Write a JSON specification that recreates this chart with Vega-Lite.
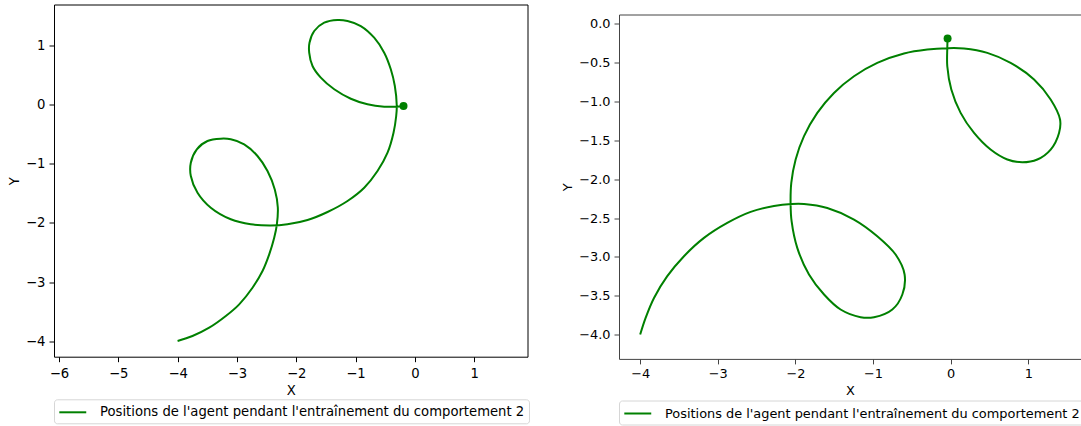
{
  "$schema": "https://vega.github.io/schema/vega-lite/v6.json",
  "background": "white",
  "padding": {"left": 7, "top": 3.5, "right": 0, "bottom": 0},
  "spacing": 31,
  "config": {
    "font": "DejaVu Sans",
    "axis": {"domain": false, "grid": false, "tickColor": "black", "tickSize": 5, "tickWidth": 1, "labelColor": "black", "labelFont": "DejaVu Sans", "labelFontSize": 13.2, "labelPadding": 4, "titleFont": "DejaVu Sans", "titleFontSize": 13.2, "titleFontWeight": "normal", "titleColor": "black", "titlePadding": 4},
    "legend": {"labelFont": "DejaVu Sans", "labelColor": "black"}
  },
  "resolve": {"scale": {"color": "independent"}, "legend": {"color": "independent"}},
  "datasets": {
    "left": [
      {"i": 1, "x": -4.0, "y": -3.99, "s": "Positions de l'agent pendant l'entraînement du comportement 2"},
      {"i": 2, "x": -3.749, "y": -3.907, "s": "Positions de l'agent pendant l'entraînement du comportement 2"},
      {"i": 3, "x": -3.467, "y": -3.767, "s": "Positions de l'agent pendant l'entraînement du comportement 2"},
      {"i": 4, "x": -3.187, "y": -3.57, "s": "Positions de l'agent pendant l'entraînement du comportement 2"},
      {"i": 5, "x": -2.961, "y": -3.373, "s": "Positions de l'agent pendant l'entraînement du comportement 2"},
      {"i": 6, "x": -2.737, "y": -3.093, "s": "Positions de l'agent pendant l'entraînement du comportement 2"},
      {"i": 7, "x": -2.568, "y": -2.811, "s": "Positions de l'agent pendant l'entraînement du comportement 2"},
      {"i": 8, "x": -2.455, "y": -2.53, "s": "Positions de l'agent pendant l'entraînement du comportement 2"},
      {"i": 9, "x": -2.371, "y": -2.25, "s": "Positions de l'agent pendant l'entraînement du comportement 2"},
      {"i": 10, "x": -2.327, "y": -2.035, "s": "Positions de l'agent pendant l'entraînement du comportement 2"},
      {"i": 11, "x": -2.31, "y": -1.74, "s": "Positions de l'agent pendant l'entraînement du comportement 2"},
      {"i": 12, "x": -2.36, "y": -1.44, "s": "Positions de l'agent pendant l'entraînement du comportement 2"},
      {"i": 13, "x": -2.484, "y": -1.125, "s": "Positions de l'agent pendant l'entraînement du comportement 2"},
      {"i": 14, "x": -2.653, "y": -0.872, "s": "Positions de l'agent pendant l'entraînement du comportement 2"},
      {"i": 15, "x": -2.877, "y": -0.675, "s": "Positions de l'agent pendant l'entraînement du comportement 2"},
      {"i": 16, "x": -3.103, "y": -0.59, "s": "Positions de l'agent pendant l'entraînement du comportement 2"},
      {"i": 17, "x": -3.272, "y": -0.58, "s": "Positions de l'agent pendant l'entraînement du comportement 2"},
      {"i": 18, "x": -3.496, "y": -0.619, "s": "Positions de l'agent pendant l'entraînement du comportement 2"},
      {"i": 19, "x": -3.676, "y": -0.759, "s": "Positions de l'agent pendant l'entraînement du comportement 2"},
      {"i": 20, "x": -3.777, "y": -0.985, "s": "Positions de l'agent pendant l'entraînement du comportement 2"},
      {"i": 21, "x": -3.777, "y": -1.209, "s": "Positions de l'agent pendant l'entraînement du comportement 2"},
      {"i": 22, "x": -3.664, "y": -1.491, "s": "Positions de l'agent pendant l'entraînement du comportement 2"},
      {"i": 23, "x": -3.44, "y": -1.744, "s": "Positions de l'agent pendant l'entraînement du comportement 2"},
      {"i": 24, "x": -3.103, "y": -1.939, "s": "Positions de l'agent pendant l'entraînement du comportement 2"},
      {"i": 25, "x": -2.766, "y": -2.024, "s": "Positions de l'agent pendant l'entraînement du comportement 2"},
      {"i": 26, "x": -2.428, "y": -2.045, "s": "Positions de l'agent pendant l'entraînement du comportement 2"},
      {"i": 27, "x": -2.147, "y": -2.024, "s": "Positions de l'agent pendant l'entraînement du comportement 2"},
      {"i": 28, "x": -1.809, "y": -1.951, "s": "Positions de l'agent pendant l'entraînement du comportement 2"},
      {"i": 29, "x": -1.472, "y": -1.816, "s": "Positions de l'agent pendant l'entraînement du comportement 2"},
      {"i": 30, "x": -1.135, "y": -1.63, "s": "Positions de l'agent pendant l'entraînement du comportement 2"},
      {"i": 31, "x": -0.853, "y": -1.406, "s": "Positions de l'agent pendant l'entraînement du comportement 2"},
      {"i": 32, "x": -0.629, "y": -1.125, "s": "Positions de l'agent pendant l'entraînement du comportement 2"},
      {"i": 33, "x": -0.46, "y": -0.816, "s": "Positions de l'agent pendant l'entraînement du comportement 2"},
      {"i": 34, "x": -0.359, "y": -0.479, "s": "Positions de l'agent pendant l'entraînement du comportement 2"},
      {"i": 35, "x": -0.314, "y": -0.197, "s": "Positions de l'agent pendant l'entraînement du comportement 2"},
      {"i": 36, "x": -0.304, "y": -0.029, "s": "Positions de l'agent pendant l'entraînement du comportement 2"},
      {"i": 37, "x": -0.337, "y": 0.309, "s": "Positions de l'agent pendant l'entraînement du comportement 2"},
      {"i": 38, "x": -0.405, "y": 0.59, "s": "Positions de l'agent pendant l'entraînement du comportement 2"},
      {"i": 39, "x": -0.516, "y": 0.87, "s": "Positions de l'agent pendant l'entraînement du comportement 2"},
      {"i": 40, "x": -0.685, "y": 1.123, "s": "Positions de l'agent pendant l'entraînement du comportement 2"},
      {"i": 41, "x": -0.911, "y": 1.32, "s": "Positions de l'agent pendant l'entraînement du comportement 2"},
      {"i": 42, "x": -1.135, "y": 1.405, "s": "Positions de l'agent pendant l'entraînement du comportement 2"},
      {"i": 43, "x": -1.304, "y": 1.422, "s": "Positions de l'agent pendant l'entraînement du comportement 2"},
      {"i": 44, "x": -1.528, "y": 1.376, "s": "Positions de l'agent pendant l'entraînement du comportement 2"},
      {"i": 45, "x": -1.696, "y": 1.236, "s": "Positions de l'agent pendant l'entraînement du comportement 2"},
      {"i": 46, "x": -1.776, "y": 1.039, "s": "Positions de l'agent pendant l'entraînement du comportement 2"},
      {"i": 47, "x": -1.781, "y": 0.87, "s": "Positions de l'agent pendant l'entraînement du comportement 2"},
      {"i": 48, "x": -1.725, "y": 0.646, "s": "Positions de l'agent pendant l'entraînement du comportement 2"},
      {"i": 49, "x": -1.585, "y": 0.449, "s": "Positions de l'agent pendant l'entraînement du comportement 2"},
      {"i": 50, "x": -1.359, "y": 0.253, "s": "Positions de l'agent pendant l'entraînement du comportement 2"},
      {"i": 51, "x": -1.079, "y": 0.094, "s": "Positions de l'agent pendant l'entraînement du comportement 2"},
      {"i": 52, "x": -0.798, "y": 0.0, "s": "Positions de l'agent pendant l'entraînement du comportement 2"},
      {"i": 53, "x": -0.516, "y": -0.04, "s": "Positions de l'agent pendant l'entraînement du comportement 2"},
      {"i": 54, "x": -0.32, "y": -0.04, "s": "Positions de l'agent pendant l'entraînement du comportement 2"},
      {"i": 55, "x": -0.191, "y": -0.029, "s": "Positions de l'agent pendant l'entraînement du comportement 2"}
    ],
    "leftEnd": [{"x": -0.191, "y": -0.029}],
    "right": [
      {"i": 1, "x": -4.0, "y": -4.0, "s": "Positions de l'agent pendant l'entraînement du comportement 2"},
      {"i": 2, "x": -3.93, "y": -3.786, "s": "Positions de l'agent pendant l'entraînement du comportement 2"},
      {"i": 3, "x": -3.822, "y": -3.529, "s": "Positions de l'agent pendant l'entraînement du comportement 2"},
      {"i": 4, "x": -3.651, "y": -3.249, "s": "Positions de l'agent pendant l'entraînement du comportement 2"},
      {"i": 5, "x": -3.436, "y": -2.992, "s": "Positions de l'agent pendant l'entraînement du comportement 2"},
      {"i": 6, "x": -3.178, "y": -2.756, "s": "Positions de l'agent pendant l'entraînement du comportement 2"},
      {"i": 7, "x": -2.878, "y": -2.563, "s": "Positions de l'agent pendant l'entraînement du comportement 2"},
      {"i": 8, "x": -2.577, "y": -2.421, "s": "Positions de l'agent pendant l'entraînement du comportement 2"},
      {"i": 9, "x": -2.276, "y": -2.344, "s": "Positions de l'agent pendant l'entraînement du comportement 2"},
      {"i": 10, "x": -2.049, "y": -2.318, "s": "Positions de l'agent pendant l'entraînement du comportement 2"},
      {"i": 11, "x": -1.889, "y": -2.318, "s": "Positions de l'agent pendant l'entraînement du comportement 2"},
      {"i": 12, "x": -1.589, "y": -2.37, "s": "Positions de l'agent pendant l'entraînement du comportement 2"},
      {"i": 13, "x": -1.245, "y": -2.519, "s": "Positions de l'agent pendant l'entraînement du comportement 2"},
      {"i": 14, "x": -0.945, "y": -2.734, "s": "Positions de l'agent pendant l'entraînement du comportement 2"},
      {"i": 15, "x": -0.709, "y": -2.97, "s": "Positions de l'agent pendant l'entraînement du comportement 2"},
      {"i": 16, "x": -0.593, "y": -3.227, "s": "Positions de l'agent pendant l'entraînement du comportement 2"},
      {"i": 17, "x": -0.622, "y": -3.485, "s": "Positions de l'agent pendant l'entraînement du comportement 2"},
      {"i": 18, "x": -0.751, "y": -3.678, "s": "Positions de l'agent pendant l'entraînement du comportement 2"},
      {"i": 19, "x": -0.987, "y": -3.777, "s": "Positions de l'agent pendant l'entraînement du comportement 2"},
      {"i": 20, "x": -1.16, "y": -3.777, "s": "Positions de l'agent pendant l'entraînement du comportement 2"},
      {"i": 21, "x": -1.418, "y": -3.678, "s": "Positions de l'agent pendant l'entraînement du comportement 2"},
      {"i": 22, "x": -1.631, "y": -3.485, "s": "Positions de l'agent pendant l'entraînement du comportement 2"},
      {"i": 23, "x": -1.825, "y": -3.227, "s": "Positions de l'agent pendant l'entraînement du comportement 2"},
      {"i": 24, "x": -1.976, "y": -2.885, "s": "Positions de l'agent pendant l'entraînement du comportement 2"},
      {"i": 25, "x": -2.049, "y": -2.541, "s": "Positions de l'agent pendant l'entraînement du comportement 2"},
      {"i": 26, "x": -2.062, "y": -2.318, "s": "Positions de l'agent pendant l'entraînement du comportement 2"},
      {"i": 27, "x": -2.053, "y": -2.048, "s": "Positions de l'agent pendant l'entraînement du comportement 2"},
      {"i": 28, "x": -1.997, "y": -1.746, "s": "Positions de l'agent pendant l'entraînement du comportement 2"},
      {"i": 29, "x": -1.889, "y": -1.446, "s": "Positions de l'agent pendant l'entraînement du comportement 2"},
      {"i": 30, "x": -1.718, "y": -1.146, "s": "Positions de l'agent pendant l'entraînement du comportement 2"},
      {"i": 31, "x": -1.503, "y": -0.889, "s": "Positions de l'agent pendant l'entraînement du comportement 2"},
      {"i": 32, "x": -1.245, "y": -0.674, "s": "Positions de l'agent pendant l'entraînement du comportement 2"},
      {"i": 33, "x": -0.945, "y": -0.502, "s": "Positions de l'agent pendant l'entraînement du comportement 2"},
      {"i": 34, "x": -0.601, "y": -0.381, "s": "Positions de l'agent pendant l'entraînement du comportement 2"},
      {"i": 35, "x": -0.3, "y": -0.33, "s": "Positions de l'agent pendant l'entraînement du comportement 2"},
      {"i": 36, "x": -0.043, "y": -0.313, "s": "Positions de l'agent pendant l'entraînement du comportement 2"},
      {"i": 37, "x": 0.173, "y": -0.317, "s": "Positions de l'agent pendant l'entraînement du comportement 2"},
      {"i": 38, "x": 0.473, "y": -0.373, "s": "Positions de l'agent pendant l'entraînement du comportement 2"},
      {"i": 39, "x": 0.773, "y": -0.502, "s": "Positions de l'agent pendant l'entraînement du comportement 2"},
      {"i": 40, "x": 1.075, "y": -0.716, "s": "Positions de l'agent pendant l'entraînement du comportement 2"},
      {"i": 41, "x": 1.289, "y": -0.974, "s": "Positions de l'agent pendant l'entraînement du comportement 2"},
      {"i": 42, "x": 1.41, "y": -1.231, "s": "Positions de l'agent pendant l'entraînement du comportement 2"},
      {"i": 43, "x": 1.397, "y": -1.404, "s": "Positions de l'agent pendant l'entraînement du comportement 2"},
      {"i": 44, "x": 1.289, "y": -1.618, "s": "Positions de l'agent pendant l'entraînement du comportement 2"},
      {"i": 45, "x": 1.117, "y": -1.746, "s": "Positions de l'agent pendant l'entraînement du comportement 2"},
      {"i": 46, "x": 0.924, "y": -1.781, "s": "Positions de l'agent pendant l'entraînement du comportement 2"},
      {"i": 47, "x": 0.731, "y": -1.746, "s": "Positions de l'agent pendant l'entraînement du comportement 2"},
      {"i": 48, "x": 0.515, "y": -1.618, "s": "Positions de l'agent pendant l'entraînement du comportement 2"},
      {"i": 49, "x": 0.302, "y": -1.404, "s": "Positions de l'agent pendant l'entraînement du comportement 2"},
      {"i": 50, "x": 0.129, "y": -1.146, "s": "Positions de l'agent pendant l'entraînement du comportement 2"},
      {"i": 51, "x": 0.009, "y": -0.845, "s": "Positions de l'agent pendant l'entraînement du comportement 2"},
      {"i": 52, "x": -0.043, "y": -0.545, "s": "Positions de l'agent pendant l'entraînement du comportement 2"},
      {"i": 53, "x": -0.043, "y": -0.313, "s": "Positions de l'agent pendant l'entraînement du comportement 2"},
      {"i": 54, "x": -0.039, "y": -0.188, "s": "Positions de l'agent pendant l'entraînement du comportement 2"}
    ],
    "rightEnd": [{"x": -0.039, "y": -0.188}]
  },
  "hconcat": [
    {
      "width": 473.5,
      "height": 352.2,
      "view": {"stroke": "black", "strokeWidth": 1},
      "layer": [
        {
          "data": {"name": "left"},
          "mark": {"type": "line", "interpolate": "catmull-rom", "strokeWidth": 2},
          "encoding": {
            "x": {"field": "x", "type": "quantitative", "scale": {"domain": [-6.084, 1.9], "nice": false, "zero": false}, "axis": {"values": [-6, -5, -4, -3, -2, -1, 0, 1], "format": "d", "title": "X", "labelPadding": 6, "titlePadding": 5}},
            "y": {"field": "y", "type": "quantitative", "scale": {"domain": [-4.256, 1.683], "nice": false, "zero": false}, "axis": {"values": [-4, -3, -2, -1, 0, 1], "format": "d", "title": "Y"}},
            "order": {"field": "i", "type": "quantitative"},
            "color": {"field": "s", "type": "nominal", "scale": {"range": ["#008000"]}, "legend": {"orient": "none", "legendX": 0, "legendY": 394.8, "title": null, "symbolType": "M-1,0H2.5", "symbolStrokeWidth": 2, "symbolSize": 237, "labelFontSize": 13.2, "labelLimit": 1000, "labelOffset": 24, "padding": 4, "strokeColor": "#d6d6d6", "fillColor": "white", "cornerRadius": 3}}
          }
        },
        {
          "data": {"name": "leftEnd"},
          "mark": {"type": "point", "filled": true, "size": 64, "opacity": 1, "color": "#008000"},
          "encoding": {
            "x": {"field": "x", "type": "quantitative"},
            "y": {"field": "y", "type": "quantitative"}
          }
        }
      ]
    },
    {
      "spacing": 0,
      "resolve": {"scale": {"color": "independent"}, "legend": {"color": "independent"}},
      "vconcat": [
        {
          "width": 462,
          "height": 8.3,
          "view": {"stroke": null},
          "data": {"values": []},
          "mark": {"type": "point", "opacity": 0},
          "encoding": {}
        },
        {
          "width": 462,
          "height": 344.4,
          "view": {"stroke": "#444444", "strokeWidth": 1},
          "layer": [
            {
              "data": {"name": "right"},
              "mark": {"type": "line", "interpolate": "catmull-rom", "strokeWidth": 2},
              "encoding": {
                "x": {"field": "x", "type": "quantitative", "scale": {"domain": [-4.273, 1.68], "nice": false, "zero": false}, "axis": {"values": [-4, -3, -2, -1, 0, 1], "format": "d", "title": "X", "labelFontSize": 12.9, "titleFontSize": 12.9, "tickColor": "#444444"}},
                "y": {"field": "y", "type": "quantitative", "scale": {"domain": [-4.314, 0.121], "nice": false, "zero": false}, "axis": {"values": [0, -0.5, -1, -1.5, -2, -2.5, -3, -3.5, -4], "format": ".1f", "title": "Y", "labelFontSize": 12.9, "titleFontSize": 12.9, "tickColor": "#444444"}},
                "order": {"field": "i", "type": "quantitative"},
                "color": {"field": "s", "type": "nominal", "scale": {"range": ["#008000"]}, "legend": {"orient": "none", "legendX": 0, "legendY": 386, "title": null, "symbolType": "M-1,0H2.5", "symbolStrokeWidth": 2, "symbolSize": 237, "labelFontSize": 12.9, "labelLimit": 1000, "labelOffset": 24, "padding": 4, "strokeColor": "#d6d6d6", "fillColor": "white", "cornerRadius": 3}}
              }
            },
            {
              "data": {"name": "rightEnd"},
              "mark": {"type": "point", "filled": true, "size": 64, "opacity": 1, "color": "#008000"},
              "encoding": {
                "x": {"field": "x", "type": "quantitative"},
                "y": {"field": "y", "type": "quantitative"}
              }
            }
          ]
        }
      ]
    }
  ]
}
